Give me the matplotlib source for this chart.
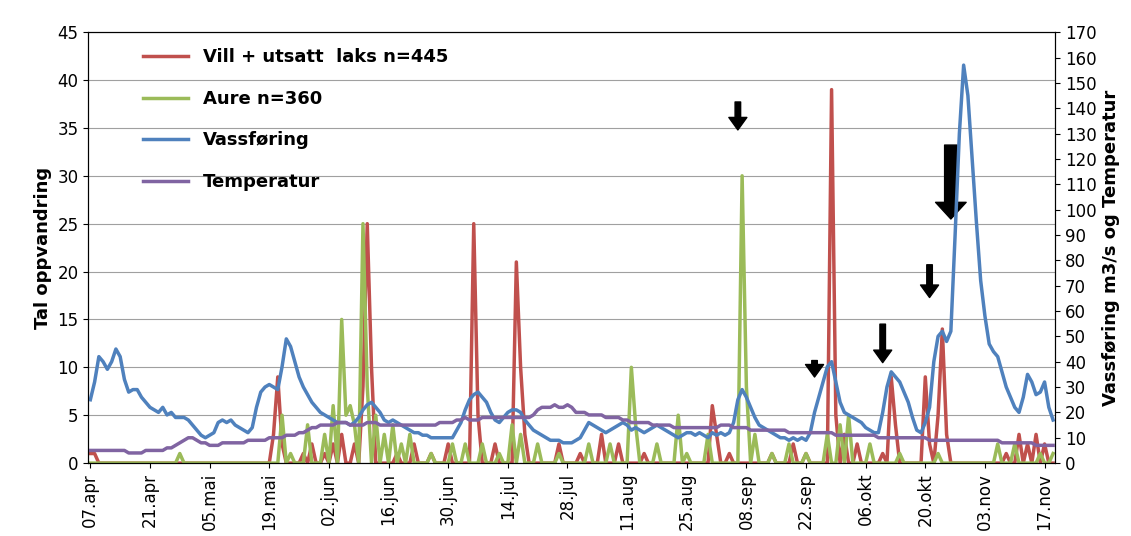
import matplotlib
matplotlib.use("Agg")
import matplotlib.pyplot as plt
import numpy as np

# day index 0 = 07.apr
tick_labels = ['07.apr', '21.apr', '05.mai', '19.mai', '02.jun', '16.jun', '30.jun', '14.jul',
               '28.jul', '11.aug', '25.aug', '08.sep', '22.sep', '06.okt', '20.okt', '03.nov', '17.nov']

laks_days = [0, 1, 43, 44, 45, 50, 52, 55, 57, 59, 62, 64, 65, 66, 72, 76, 80, 84, 90, 91, 95, 100, 101, 102,
             110, 115, 120, 124, 130, 146, 147, 150, 160, 165, 168, 174, 175, 177, 180, 186, 188, 189,
             196, 197, 199, 200, 201, 215, 218, 220, 222, 224]
laks_vals = [1, 1, 3, 9, 2, 1, 2, 1, 2, 3, 2, 8, 25, 10, 1, 2, 1, 2, 25, 5, 2, 21, 10, 3,
             2, 1, 3, 2, 1, 6, 3, 1, 1, 2, 1, 39, 5, 3, 2, 1, 9, 4,
             9, 2, 5, 14, 3, 1, 3, 2, 3, 2]

aure_days = [21, 45, 47, 51, 55, 57, 59, 60, 61, 62, 64, 65, 67, 69, 71, 73, 75, 80, 85, 88, 92, 96, 99, 101,
             105, 110, 117, 122, 127, 128, 133, 138, 140, 145, 153, 154, 156, 160, 164, 168, 173, 176,
             178, 183, 190, 199, 213, 217, 223, 226]
aure_vals = [1, 5, 1, 4, 3, 6, 15, 5, 6, 4, 25, 8, 5, 3, 4, 2, 3, 1, 2, 2, 2, 1, 4, 3,
             2, 1, 2, 2, 10, 4, 2, 5, 1, 3, 30, 8, 3, 1, 2, 1, 3, 4,
             5, 2, 1, 1, 2, 2, 1, 1]

vassforing = [25, 32, 42, 40, 37, 40, 45, 42, 33, 28,
              29, 29, 26, 24, 22, 21, 20, 22, 19, 20,
              18, 18, 18, 17, 15, 13, 11, 10, 11, 12,
              16, 17, 16, 17, 15, 14, 13, 12, 14, 22,
              28, 30, 31, 30, 29, 38, 49, 46, 40, 34,
              30, 27, 24, 22, 20, 19, 18, 17, 16, 16,
              16, 15, 16, 18, 21, 23, 24, 22, 20, 17,
              16, 17, 16, 15, 14, 13, 12, 12, 11, 11,
              10, 10, 10, 10, 10, 10, 13, 16, 21, 25,
              27, 28, 26, 24, 20, 17, 16, 18, 20, 21,
              21, 20, 17, 15, 13, 12, 11, 10, 9, 9,
              9, 8, 8, 8, 9, 10, 13, 16, 15, 14,
              13, 12, 13, 14, 15, 16, 15, 13, 14, 13,
              12, 13, 14, 15, 14, 13, 12, 11, 10, 11,
              12, 12, 11, 12, 11, 10, 12, 11, 12, 11,
              12, 16, 25, 29, 26, 22, 18, 15, 14, 13,
              12, 11, 10, 10, 9, 10, 9, 10, 9, 12,
              20, 26, 32, 38, 40, 32, 24, 20, 19, 18,
              17, 16, 14, 13, 12, 12, 20, 30, 36, 34,
              32, 28, 24, 18, 13, 12, 16, 22, 40, 50,
              52, 48, 52, 90, 130, 157, 145, 120, 95, 72,
              58, 47, 44, 42, 36, 30, 26, 22, 20, 26,
              35, 32, 27, 28, 32, 22, 17]

temperatur = [5, 5, 5, 5, 5, 5, 5, 5, 5, 4,
              4, 4, 4, 5, 5, 5, 5, 5, 6, 6,
              7, 8, 9, 10, 10, 9, 8, 8, 7, 7,
              7, 8, 8, 8, 8, 8, 8, 9, 9, 9,
              9, 9, 10, 10, 10, 10, 11, 11, 11, 12,
              12, 13, 14, 14, 15, 15, 15, 15, 16, 16,
              16, 15, 15, 15, 15, 16, 16, 16, 15, 15,
              15, 15, 15, 15, 15, 15, 15, 15, 15, 15,
              15, 15, 16, 16, 16, 16, 17, 17, 18, 17,
              17, 17, 18, 18, 18, 18, 18, 18, 18, 18,
              18, 18, 18, 18, 19, 21, 22, 22, 22, 23,
              22, 22, 23, 22, 20, 20, 20, 19, 19, 19,
              19, 18, 18, 18, 18, 17, 17, 16, 16, 16,
              16, 16, 15, 15, 15, 15, 15, 14, 14, 14,
              14, 14, 14, 14, 14, 14, 14, 14, 15, 15,
              15, 14, 14, 14, 14, 13, 13, 13, 13, 13,
              13, 13, 13, 13, 12, 12, 12, 12, 12, 12,
              12, 12, 12, 12, 12, 11, 11, 11, 11, 11,
              11, 11, 11, 11, 11, 10, 10, 10, 10, 10,
              10, 10, 10, 10, 10, 10, 10, 9, 9, 9,
              9, 9, 9, 9, 9, 9, 9, 9, 9, 9,
              9, 9, 9, 9, 8, 8, 8, 8, 8, 8,
              8, 8, 7, 7, 7, 7, 7]

# arrows: (day, top, tip) in left-axis units
arrows = [(152, 38, 34.5), (170, 11, 8.7), (186, 14.8, 10.2), (197, 21, 17), (202, 33.5, 25.2)]

n = len(vassforing)
days = np.arange(n)
laks = np.zeros(n)
laks[laks_days] = laks_vals
aure = np.zeros(n)
aure[aure_days] = aure_vals

fig = plt.figure(figsize=(11.31, 5.36), dpi=100)
ax = fig.add_axes([0.078, 0.136, 0.855, 0.804])
ax2 = ax.twinx()

l1, = ax.plot(days, laks, color='#c0504d', lw=2.5, label='Vill + utsatt  laks n=445')
l2, = ax.plot(days, aure, color='#9bbb59', lw=2.5, label='Aure n=360')
l3, = ax2.plot(days, vassforing, color='#4f81bd', lw=2.5, label='Vassføring')
l4, = ax2.plot(days, temperatur, color='#8064a2', lw=2.5, label='Temperatur')

ax.set_ylim(0, 45)
ax.set_yticks(range(0, 46, 5))
ax2.set_ylim(0, 170)
ax2.set_yticks(range(0, 171, 10))
ax.set_xlim(-0.5, n - 0.5)
ax.set_xticks(range(0, n, 14))
ax.set_xticklabels(tick_labels, rotation=90)
ax.grid(axis='y', color='#a0a0a0', lw=0.8)
ax.set_axisbelow(True)
ax.tick_params(labelsize=12)
ax2.tick_params(labelsize=12)
ax.set_ylabel('Tal oppvandring', fontsize=13, fontweight='bold')
ax2.set_ylabel('Vassføring m3/s og Temperatur', fontsize=13, fontweight='bold')

for i, (d, top, tip) in enumerate(arrows):
    big = i == len(arrows) - 1
    ax.annotate('', xy=(d, tip), xytext=(d, top),
                arrowprops=dict(arrowstyle='simple,head_width=%s,head_length=%s,tail_width=%s'
                                % ((2.2, 1.2, 0.9) if big else (1.3, 0.9, 0.4)),
                                color='black'))

leg = ax.legend(handles=[l1, l2, l3, l4], loc='upper left', bbox_to_anchor=(0.04, 1.0),
                frameon=False, fontsize=13, labelspacing=1.3, handlelength=2.5)
for t in leg.get_texts():
    t.set_fontweight('bold')

fig.savefig('out.png', dpi=100)
